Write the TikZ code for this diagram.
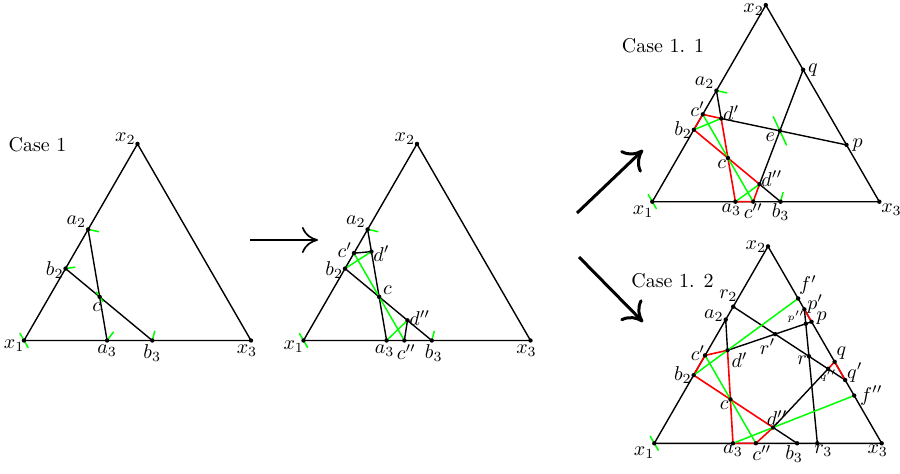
\documentclass[tikz,border=0pt]{standalone}
\usepackage{amsmath,amssymb}
\usepackage{tikz}
\usetikzlibrary{arrows.meta,calc}

\begin{document}
\begin{tikzpicture}[x=0.5pt, y=0.5pt,
  edge/.style={line width=0.7pt, line join=round},
  redline/.style={red, line width=0.8pt, line join=round},
  grnline/.style={green, line width=0.75pt},
  tick/.style={green, line width=0.75pt},
  lab/.style={inner sep=0.8pt},
  tinylab/.style={inner sep=0.4pt, font=\tiny},
  arrow/.style={-{Computer Modern Rightarrow[length=8pt,width=13pt]}, line width=0.85pt},
  bigarrow/.style={-{Computer Modern Rightarrow[length=9pt,width=15pt]}, line width=1.5pt}
]
\useasboundingbox (0,0) rectangle (900,473);

% Case 1
\coordinate (Ax1) at (24,132.5);
\coordinate (Ax2) at ($(Ax1)+(60:227)$);
\coordinate (Ax3) at ($(Ax1)+(227,0)$);
\coordinate (Aa2) at ($(Ax1)!0.565!(Ax2)$);
\coordinate (Ab2) at ($(Ax1)!0.366!(Ax2)$);
\coordinate (Aa3) at ($(Ax1)!0.366!(Ax3)$);
\coordinate (Ab3) at ($(Ax1)!0.565!(Ax3)$);
\coordinate (Ac) at (intersection of Aa2--Aa3 and Ab2--Ab3);
\draw[edge] (Ax1) -- (Ax2) -- (Ax3) -- cycle;
\draw[edge] (Aa2) -- (Aa3);
\draw[edge] (Ab2) -- (Ab3);
\draw[tick] (Ax1) +(120:8.5) -- +(-60:8.5);
\draw[tick] (Aa2) -- +(-12:11);
\draw[tick] (Ab2) -- +(8:10);
\draw[tick] (Ac) +(125:6) -- +(-55:6);
\draw[tick] (Aa3) -- +(53:11);
\draw[tick] (Ab3) -- +(75:10);
\node[lab] (caseA) at (37.5,328) {Case 1};
\node[lab, anchor=east, xshift=1.2pt, yshift=-2.5pt] (Ax1l) at (Ax1) {$x_1$};
\node[lab, anchor=east, yshift=2.5pt] (Ax2l) at (Ax2) {$x_2$};
\node[lab, anchor=north, xshift=-2pt, yshift=-1pt] (Ax3l) at (Ax3) {$x_3$};
\node[lab, anchor=south east] (Aa2l) at (Aa2) {$a_2$};
\node[lab, anchor=east, yshift=-1pt] (Ab2l) at (Ab2) {$b_2$};
\node[lab, anchor=north, xshift=-1.5pt, yshift=-2pt] (Acl) at (Ac) {$c$};
\node[lab, anchor=north, yshift=-1pt] (Aa3l) at (Aa3) {$a_3$};
\node[lab, anchor=north, yshift=-1pt] (Ab3l) at (Ab3) {$b_3$};

% first step
\coordinate (Bx1) at (303.5,132.5);
\coordinate (Bx2) at ($(Bx1)+(60:227)$);
\coordinate (Bx3) at ($(Bx1)+(227,0)$);
\coordinate (Ba2) at ($(Bx1)!0.565!(Bx2)$);
\coordinate (Bb2) at ($(Bx1)!0.366!(Bx2)$);
\coordinate (Ba3) at ($(Bx1)!0.366!(Bx3)$);
\coordinate (Bb3) at ($(Bx1)!0.565!(Bx3)$);
\coordinate (Bc) at (intersection of Ba2--Ba3 and Bb2--Bb3);
\coordinate (Bcc) at ($(Bc)+(120:30)$);
\coordinate (Bcp) at (intersection of Bx1--Bx2 and Bc--Bcc);
\coordinate (Bcpp) at (intersection of Bx1--Bx3 and Bc--Bcc);
\coordinate (Bdp) at ($(Ba2)!0.2!(Ba3)$);
\coordinate (Bdpp) at ($(Bb3)!0.28!(Bb2)$);
\draw[edge] (Bx1) -- (Bx2) -- (Bx3) -- cycle;
\draw[edge] (Ba2) -- (Ba3);
\draw[edge] (Bb2) -- (Bb3);
\draw[edge] (Bcp) -- (Bdp);
\draw[edge] (Bcpp) -- (Bdpp);
\draw[grnline] (Bb2) -- (Bdp);
\draw[grnline] (Bcp) -- (Bcpp);
\draw[grnline] (Ba3) -- (Bdpp);
\draw[tick] (Bx1) +(120:8.5) -- +(-60:8.5);
\draw[tick] (Ba2) -- +(-12:11);
\draw[tick] (Bb3) -- +(75:10);
\node[lab, anchor=east, xshift=1.2pt, yshift=-3pt] (Bx1l) at (Bx1) {$x_1$};
\node[lab, anchor=east, yshift=2.5pt] (Bx2l) at (Bx2) {$x_2$};
\node[lab, anchor=north, xshift=-2pt, yshift=-1pt] (Bx3l) at (Bx3) {$x_3$};
\node[lab, anchor=south east] (Ba2l) at (Ba2) {$a_2$};
\node[lab, anchor=east, yshift=-1pt] (Bb2l) at (Bb2) {$b_2$};
\node[lab, anchor=east, yshift=1.5pt] (Bcpl) at (Bcp) {$c'$};
\node[lab, anchor=west, yshift=-1pt] (Bdpl) at (Bdp) {$d'$};
\node[lab, anchor=south west, xshift=1pt] (Bcl) at (Bc) {$c$};
\node[lab, anchor=west, yshift=1pt] (Bdppl) at (Bdpp) {$d''$};
\node[lab, anchor=north, xshift=-1pt, yshift=-1pt] (Ba3l) at (Ba3) {$a_3$};
\node[lab, anchor=north, xshift=1pt, yshift=-1pt] (Bcppl) at (Bcpp) {$c''$};
\node[lab, anchor=north, xshift=1pt, yshift=-1pt] (Bb3l) at (Bb3) {$b_3$};

% Case 1.1
\coordinate (Cx1) at (652.3,271.3);
\coordinate (Cx2) at ($(Cx1)+(60:227)$);
\coordinate (Cx3) at ($(Cx1)+(227,0)$);
\coordinate (Ca2) at ($(Cx1)!0.565!(Cx2)$);
\coordinate (Cb2) at ($(Cx1)!0.366!(Cx2)$);
\coordinate (Ca3) at ($(Cx1)!0.366!(Cx3)$);
\coordinate (Cb3) at ($(Cx1)!0.565!(Cx3)$);
\coordinate (Cc) at (intersection of Ca2--Ca3 and Cb2--Cb3);
\coordinate (Ccc) at ($(Cc)+(120:30)$);
\coordinate (Ccp) at (intersection of Cx1--Cx2 and Cc--Ccc);
\coordinate (Ccpp) at (intersection of Cx1--Cx3 and Cc--Ccc);
\coordinate (Cdp) at ($(Ca2)!0.251!(Ca3)$);
\coordinate (Cdpp) at ($(Cb3)!0.243!(Cb2)$);
\coordinate (Cp) at ($(Cx3)!0.289!(Cx2)$);
\coordinate (Cq) at ($(Cx3)!0.671!(Cx2)$);
\coordinate (Ce) at (intersection of Cdp--Cp and Cdpp--Cq);
\draw[edge] (Cx1) -- (Cx2) -- (Cx3) -- cycle;
\draw[edge] (Ca2) -- (Cdp) -- (Cp);
\draw[edge] (Cdpp) -- (Cq);
\draw[edge] (Cdpp) -- (Cb3);
\draw[redline] (Cb2) -- (Ccp) -- (Cdp) -- (Ca3) -- (Ccpp) -- (Cdpp) -- cycle;
\draw[grnline] (Cb2) -- (Cdp);
\draw[grnline] (Ccp) -- (Ccpp);
\draw[grnline] (Ca3) -- (Cdpp);
\draw[tick] (Cx1) +(120:8.5) -- +(-60:8.5);
\draw[tick] (Ca2) -- +(-12:11);
\draw[tick] (Cb3) -- +(75:10);
\draw[tick] (Ce) +(115:16) -- +(-65:16);
\node[lab] (caseC) at (663,427) {Case 1. 1};
\node[lab, anchor=north east, xshift=1.5pt, yshift=-1pt] (Cx1l) at (Cx1) {$x_1$};
\node[lab, anchor=east, yshift=-2.5pt] (Cx2l) at (Cx2) {$x_2$};
\node[lab, anchor=north west] (Cx3l) at (Cx3) {$x_3$};
\node[lab, anchor=south east] (Ca2l) at (Ca2) {$a_2$};
\node[lab, anchor=east] (Cb2l) at (Cb2) {$b_2$};
\node[lab, anchor=south east, xshift=2pt, yshift=-2pt] (Ccpl) at (Ccp) {$c'$};
\node[lab, anchor=south west, yshift=-2pt] (Cdpl) at (Cdp) {$d'$};
\node[lab, anchor=north east] (Ccl) at (Cc) {$c$};
\node[lab, anchor=south west, yshift=-2pt] (Cdppl) at (Cdpp) {$d''$};
\node[lab, anchor=north east, xshift=-1.5pt] (Cel) at (Ce) {$e$};
\node[lab, anchor=west, xshift=2pt] (Cpl) at (Cp) {$p$};
\node[lab, anchor=west, xshift=1.5pt] (Cql) at (Cq) {$q$};
\node[lab, anchor=north, xshift=-2pt] (Ca3l) at (Ca3) {$a_3$};
\node[lab, anchor=north] (Ccppl) at (Ccpp) {$c''$};
\node[lab, anchor=north] (Cb3l) at (Cb3) {$b_3$};

% Case 1.2
\coordinate (Dx1) at (654.3,29.7);
\coordinate (Dx2) at ($(Dx1)+(60:227.4)$);
\coordinate (Dx3) at ($(Dx1)+(227.4,0)$);
\coordinate (Da2) at ($(Dx1)!0.628!(Dx2)$);
\coordinate (Db2) at ($(Dx1)!0.346!(Dx2)$);
\coordinate (Da3) at ($(Dx1)!0.346!(Dx3)$);
\coordinate (Db3) at ($(Dx1)!0.628!(Dx3)$);
\coordinate (Dr2) at ($(Dx1)!0.694!(Dx2)$);
\coordinate (Dr3) at ($(Dx1)!0.717!(Dx3)$);
\coordinate (Dc) at (intersection of Da2--Da3 and Db2--Db3);
\coordinate (Dcc) at ($(Dc)+(120:30)$);
\coordinate (Dcp) at (intersection of Dx1--Dx2 and Dc--Dcc);
\coordinate (Dcpp) at (intersection of Dx1--Dx3 and Dc--Dcc);
\coordinate (Ddp) at ($(Da2)!0.248!(Da3)$);
\coordinate (Ddpp) at ($(Db3)!0.232!(Db2)$);
\coordinate (Dp) at ($(Dx3)!0.617!(Dx2)$);
\coordinate (Dpp) at ($(Dx3)!0.68!(Dx2)$);
\coordinate (Dq) at ($(Dx3)!0.414!(Dx2)$);
\coordinate (Dqp) at ($(Dx3)!0.321!(Dx2)$);
\coordinate (Dfp) at (intersection of Db2--Ddp and Dx2--Dx3);
\coordinate (Dfpp) at (intersection of Da3--Ddpp and Dx2--Dx3);
\coordinate (Dppp) at (intersection of Ddp--Dp and Dr3--Dpp);
\coordinate (Dqpp) at (intersection of Ddpp--Dq and Dr2--Dqp);
\coordinate (Dr) at (intersection of Dr2--Dqp and Dr3--Dpp);
\coordinate (Drp) at (intersection of Ddp--Dp and Dr2--Dqp);
\draw[edge] (Dx1) -- (Dx2) -- (Dx3) -- cycle;
\draw[edge] (Da2) -- (Ddp) -- (Dp);
\draw[edge] (Ddpp) -- (Db3);
\draw[edge] (Ddpp) -- (Dqpp);
\draw[edge] (Dr2) -- (Dqp);
\draw[edge] (Dr3) -- (Dpp);
\draw[redline] (Db2) -- (Dcp) -- (Ddp) -- (Da3) -- (Dcpp) -- (Ddpp) -- cycle;
\draw[redline] (Dpp) -- (Dp);
\draw[redline] (Dqpp) -- (Dq) -- (Dqp);
\draw[grnline] (Db2) -- (Dfp);
\draw[grnline] (Dcp) -- (Dcpp);
\draw[grnline] (Da3) -- (Dfpp);
\draw[tick] (Dx1) +(120:8.5) -- +(-60:8.5);
\node[lab] (caseD) at (672.5,192.5) {Case 1. 2};
\node[lab, anchor=north east, xshift=1pt, yshift=-1pt] (Dx1l) at (Dx1) {$x_1$};
\node[lab, anchor=east] (Dx2l) at (Dx2) {$x_2$};
\node[lab, anchor=north, xshift=-2pt] (Dx3l) at (Dx3) {$x_3$};
\node[lab, anchor=east, yshift=1.75pt] (Da2l) at (Da2) {$a_2$};
\node[lab, anchor=east] (Db2l) at (Db2) {$b_2$};
\node[lab, anchor=south, xshift=-2.4pt, yshift=1.5pt] (Dr2l) at (Dr2) {$r_2$};
\node[lab, anchor=east, xshift=1pt, yshift=1pt] (Dcpl) at (Dcp) {$c'$};
\node[lab, anchor=north west, xshift=1pt] (Ddpl) at (Ddp) {$d'$};
\node[lab, anchor=north east] (Dcl) at (Dc) {$c$};
\node[lab, anchor=south, xshift=2pt] (Ddppl) at (Ddpp) {$d''$};
\node[lab, anchor=south west, xshift=-0.5pt, yshift=1pt] (Dfpl) at (Dfp) {$f'$};
\node[lab, anchor=west, xshift=2pt] (Dfppl) at (Dfpp) {$f''$};
\node[lab, anchor=west, xshift=0.5pt, yshift=2.5pt] (Dppl) at (Dpp) {$p'$};
\node[lab, anchor=west, xshift=1.5pt, yshift=2pt] (Dpl) at (Dp) {$p$};
\node[tinylab, anchor=south east] (Dpppl) at (Dppp) {$p''$};
\node[lab, anchor=north east, xshift=1pt, yshift=-1.5pt] (Drpl) at (Drp) {$r'$};
\node[lab, anchor=east, yshift=-2pt] (Drl) at (Dr) {$r$};
\node[lab, anchor=south west] (Dql) at (Dq) {$q$};
\node[lab, anchor=south west, yshift=-2pt] (Dqpl) at (Dqp) {$q'$};
\node[tinylab, anchor=north] (Dqppl) at (Dqpp) {$q''$};
\node[lab, anchor=north] (Da3l) at (Da3) {$a_3$};
\node[lab, anchor=north, xshift=3pt] (Dcppl) at (Dcpp) {$c''$};
\node[lab, anchor=north, xshift=-1.5pt] (Db3l) at (Db3) {$b_3$};
\node[lab, anchor=north, xshift=3pt] (Dr3l) at (Dr3) {$r_3$};

% points
\foreach \pt in {Ax1,Ax2,Ax3,Aa2,Ab2,Aa3,Ab3,Ac,
  Bx1,Bx2,Bx3,Ba2,Bb2,Ba3,Bb3,Bc,Bcp,Bcpp,Bdp,Bdpp,
  Cx1,Cx2,Cx3,Ca2,Cb2,Ca3,Cb3,Cc,Ccp,Ccpp,Cdp,Cdpp,Ce,Cp,Cq,
  Dx1,Dx2,Dx3,Da2,Db2,Da3,Db3,Dc,Dcp,Dcpp,Ddp,Ddpp,Dr2,Dr3,Dfp,Dfpp,
  Dp,Dpp,Dppp,Dq,Dqp,Dqpp,Dr,Drp}
  \fill (\pt) circle (1.1pt);

% arrows between the cases
\coordinate (ar1a) at (250,233);
\coordinate (ar1b) at (318,233);
\coordinate (ar2a) at (577,260);
\coordinate (ar2b) at (643,323);
\coordinate (ar3a) at (579,216);
\coordinate (ar3b) at (643,151);
\draw[arrow] (ar1a) -- (ar1b);
\draw[bigarrow] (ar2a) -- (ar2b);
\draw[bigarrow] (ar3a) -- (ar3b);
\end{tikzpicture}
\end{document}
